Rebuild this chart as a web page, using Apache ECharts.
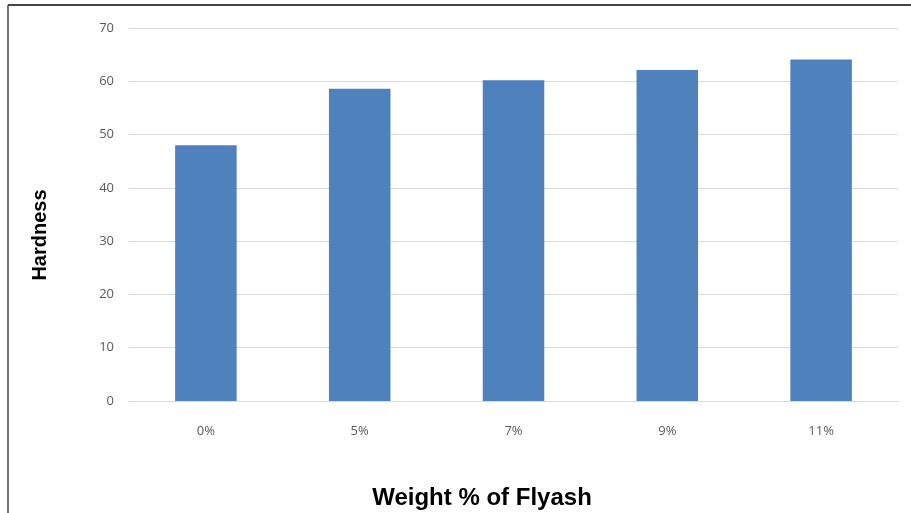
<!DOCTYPE html>
<html>
<head>
<meta charset="utf-8">
<script src="https://cdn.jsdelivr.net/npm/echarts@6/dist/echarts.min.js"></script>
<style>html,body{margin:0;padding:0;background:#fff}#c{width:911px;height:513px}</style>
</head>
<body>
<div id="c"></div>
<script>
const categories = ['0%', '5%', '7%', '9%', '11%'];
const hardness = [48, 58.6, 60.2, 62.1, 64.1];
const yTicks = { min: 0, max: 70, interval: 10 };
const xTitle = 'Weight % of Flyash';
const yTitle = 'Hardness';

const chart = echarts.init(document.getElementById('c'), null, { renderer: 'canvas' });
chart.setOption({
  backgroundColor: '#fff',
  animation: false,
  grid: { left: 129, right: 13, top: 28, bottom: 112 },
  xAxis: {
    type: 'category',
    data: categories,
    axisTick: { show: false },
    axisLine: { lineStyle: { color: '#d9d9d9', width: 1 } },
    axisLabel: { color: '#595959', fontSize: 13, fontFamily: 'Open Sans', margin: 24 }
  },
  yAxis: {
    type: 'value',
    min: yTicks.min, max: yTicks.max, interval: yTicks.interval,
    axisLine: { show: false },
    axisTick: { show: false },
    splitLine: { lineStyle: { color: '#d9d9d9', width: 1 } },
    axisLabel: { color: '#595959', fontSize: 13, fontFamily: 'Open Sans', margin: 15 }
  },
  series: [{
    type: 'bar',
    data: hardness,
    barWidth: '40%',
    itemStyle: { color: '#4f81bd' }
  }],
  graphic: [
    { type: 'line', shape: { x1: 8, y1: 5, x2: 911, y2: 5 }, style: { stroke: '#444', lineWidth: 2 } },
    { type: 'line', shape: { x1: 8, y1: 5, x2: 8, y2: 513 }, style: { stroke: '#444', lineWidth: 1.5 } },
    { type: 'text', x: 482, y: 498,
      style: { text: xTitle, fill: '#000', font: 'bold 24px "Liberation Sans"', textAlign: 'center', textVerticalAlign: 'middle' } },
    { type: 'text', x: 40, y: 235, rotation: Math.PI / 2,
      style: { text: yTitle, fill: '#000', font: 'bold 20px "Liberation Sans"', textAlign: 'center', textVerticalAlign: 'middle' } }
  ]
});
</script>
</body>
</html>
